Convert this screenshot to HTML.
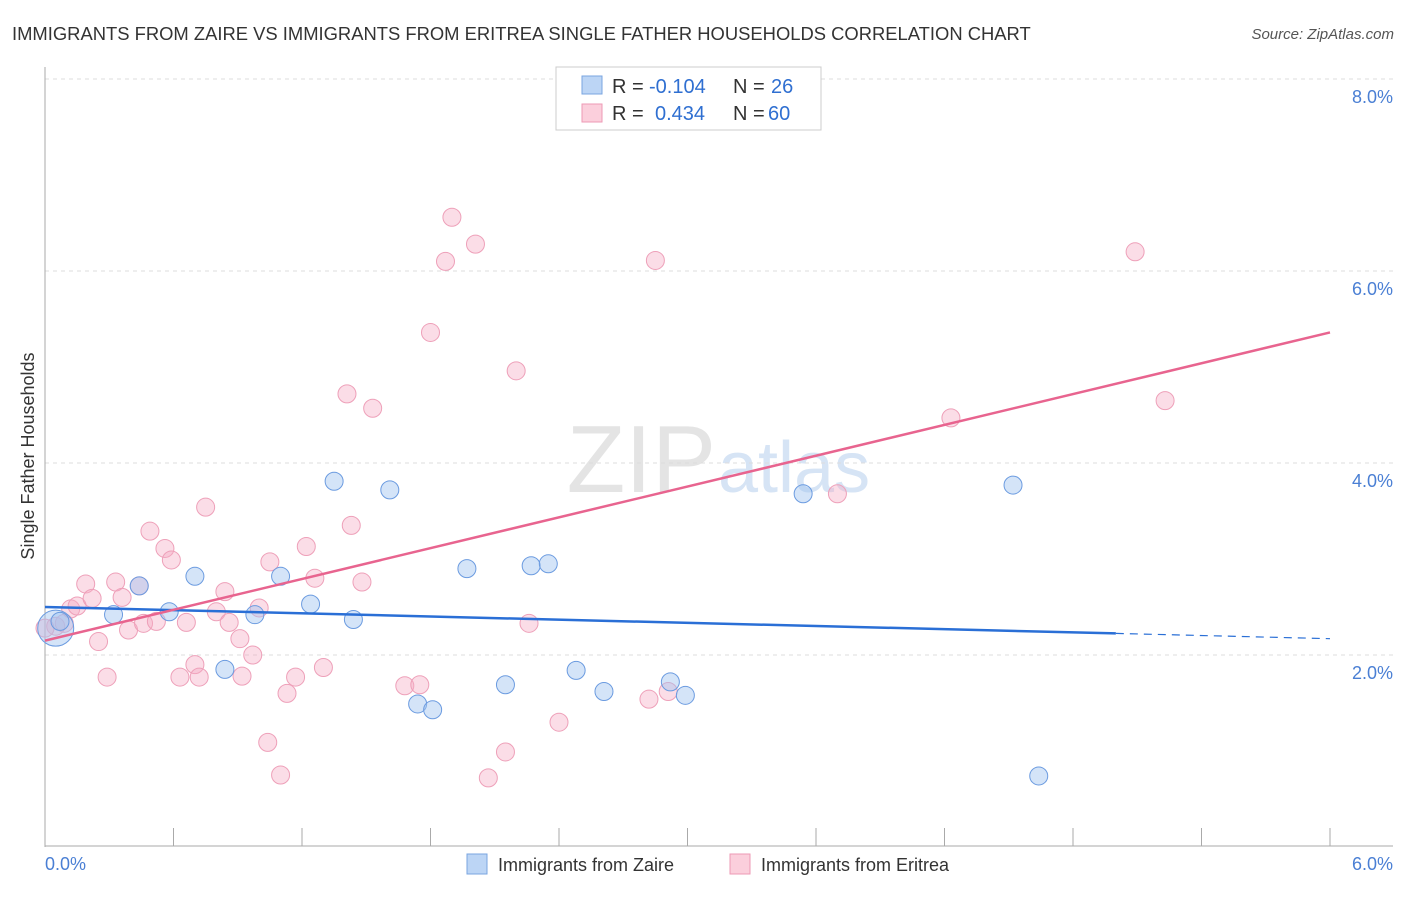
<!DOCTYPE html>
<html><head><meta charset="utf-8"><style>
body{margin:0;background:#fff;font-family:"Liberation Sans",sans-serif;}
svg text{font-family:"Liberation Sans",sans-serif;}
</style></head><body>
<svg id="c" width="1406" height="892" xmlns="http://www.w3.org/2000/svg">
<text x="12" y="40" font-size="18.4" fill="#333">IMMIGRANTS FROM ZAIRE VS IMMIGRANTS FROM ERITREA SINGLE FATHER HOUSEHOLDS CORRELATION CHART</text>
<text x="1394" y="39" font-size="15" fill="#555" font-style="italic" text-anchor="end">Source: ZipAtlas.com</text>
<text x="716" y="492" font-size="96" fill="#e4e4e4" font-family="Liberation Serif" text-anchor="end">ZIP</text>
<text x="718" y="492" font-size="72" fill="#d6e4f5">atlas</text>
<g id="grid"></g><g id="axes"></g><g id="pts"></g><g id="lines"></g>
<text x="34" y="456" font-size="18" fill="#333" text-anchor="middle" transform="rotate(-90 34 456)">Single Father Households</text>
<text x="45" y="870" font-size="18" fill="#4a7fd4">0.0%</text>
<text x="1393" y="870" font-size="18" fill="#4a7fd4" text-anchor="end">6.0%</text>
<g>
<rect x="556" y="67" width="265" height="63" fill="#fff" stroke="#ccc"/>
<rect x="582" y="76" width="20" height="18" fill="#bcd5f5" stroke="#7aa5e0"/>
<rect x="582" y="104" width="20" height="18" fill="#fbcfdc" stroke="#ee9ab5"/>
<text x="612" y="93" font-size="20" fill="#333">R =</text>
<text x="649" y="93" font-size="20" fill="#2f6fd1">-0.104</text>
<text x="733" y="93" font-size="20" fill="#333">N =</text>
<text x="771" y="93" font-size="20" fill="#2f6fd1">26</text>
<text x="612" y="120" font-size="20" fill="#333">R =</text>
<text x="655" y="120" font-size="20" fill="#2f6fd1">0.434</text>
<text x="733" y="120" font-size="20" fill="#333">N =</text>
<text x="768" y="120" font-size="20" fill="#2f6fd1">60</text>
</g>
<g>
<rect x="467" y="854" width="20" height="20" fill="#bcd5f5" stroke="#7aa5e0"/>
<text x="498" y="871" font-size="18" fill="#333">Immigrants from Zaire</text>
<rect x="730" y="854" width="20" height="20" fill="#fbcfdc" stroke="#ee9ab5"/>
<text x="761" y="871" font-size="18" fill="#333">Immigrants from Eritrea</text>
</g>
</svg>
<script>
const yTicks=[2,4,6,8];
const xTicks=[0,0.6,1.2,1.8,2.4,3.0,3.6,4.2,4.8,5.4,6.0];
const zaireX=[0.05,0.32,0.44,0.58,0.70,0.84,0.98,1.10,1.24,1.35,1.44,1.61,1.74,1.81,1.97,2.15,2.27,2.35,2.48,2.61,2.92,2.99,3.54,4.52,4.64,0.07];
const zaireY=[2.28,2.42,2.72,2.45,2.82,1.85,2.42,2.82,2.53,3.81,2.37,3.72,1.49,1.43,2.90,1.69,2.93,2.95,1.84,1.62,1.72,1.58,3.68,3.77,0.74,2.35];
const zaireR=[18,9,9,9,9,9,9,9,9,9,9,9,9,9,9,9,9,9,9,9,9,9,9,9,9,9];
const eritreaX=[0.05,0.09,0.12,0.15,0.19,0.22,0.25,0.29,0.33,0.36,0.39,0.44,0.46,0.49,0.52,0.56,0.59,0.63,0.66,0.70,0.72,0.75,0.80,0.84,0.86,0.91,0.92,0.97,1.00,1.04,1.05,1.10,1.13,1.17,1.22,1.26,1.30,1.41,1.43,1.48,1.53,1.68,1.75,1.80,1.87,1.90,2.01,2.07,2.15,2.20,2.26,2.40,2.82,2.85,2.91,3.70,4.23,5.09,5.23,0.0];
const eritreaY=[2.30,2.33,2.48,2.51,2.74,2.59,2.14,1.77,2.76,2.60,2.26,2.72,2.33,3.29,2.35,3.11,2.99,1.77,2.34,1.90,1.77,3.54,2.45,2.66,2.34,2.17,1.78,2.00,2.49,1.09,2.97,0.75,1.60,1.77,3.13,2.80,1.87,4.72,3.35,2.76,4.57,1.68,1.69,5.36,6.10,6.56,6.28,0.72,0.99,4.96,2.33,1.30,1.54,6.11,1.62,3.68,4.47,6.20,4.65,2.28];
const zaireLine=[2.50,-0.055];
const eritreaLine=[2.15,0.535];
const X=v=>45+v/6*1285, Y=v=>847-v*96;
const ns="http://www.w3.org/2000/svg";
function mk(t,a,p){const e=document.createElementNS(ns,t);for(const k in a)e.setAttribute(k,a[k]);document.getElementById(p).appendChild(e);return e;}
yTicks.forEach(t=>{
 const l=mk('line',{x1:45,x2:1393,y1:Y(t),y2:Y(t),stroke:'#ddd','stroke-dasharray':'4,4'},'grid');
 
 
 const tx=mk('text',{x:1393,y:Y(t)+24,'font-size':18,fill:'#4a7fd4','text-anchor':'end'},'grid');
 tx.textContent=t.toFixed(1)+'%';
 
 
});
const ax=mk('line',{x1:45,x2:45,y1:67,y2:847,stroke:'#aaa'},'axes');


const bx=mk('line',{x1:45,x2:1393,y1:846,y2:846,stroke:'#aaa'},'axes');


xTicks.forEach(t=>{
 const l=mk('line',{x1:X(t),x2:X(t),y1:828,y2:846,stroke:'#aaa'},'axes');
 
 
});
eritreaX.forEach((x,i)=>{
 const c=mk('circle',{cx:X(x),cy:Y(eritreaY[i]),r:9,fill:'rgba(246,170,195,0.4)',stroke:'#eea0b9','stroke-width':1},'pts');
 
 
});
zaireX.forEach((x,i)=>{
 const c=mk('circle',{cx:X(x),cy:Y(zaireY[i]),r:zaireR[i],fill:'rgba(160,195,240,0.45)',stroke:'#6b9be0','stroke-width':1},'pts');
 
 
});
const zl=v=>zaireLine[0]+zaireLine[1]*v, el=v=>eritreaLine[0]+eritreaLine[1]*v;
const l1=mk('line',{x1:X(0),y1:Y(zl(0)),x2:X(5.0),y2:Y(zl(5.0)),stroke:'#2a6fd6','stroke-width':2.5},'lines');


const l2=mk('line',{x1:X(5.0),y1:Y(zl(5.0)),x2:X(6),y2:Y(zl(6)),stroke:'#2a6fd6','stroke-width':1.2,'stroke-dasharray':'8,6'},'lines');


const l3=mk('line',{x1:X(0),y1:Y(el(0)),x2:X(6),y2:Y(el(6)),stroke:'#e8648f','stroke-width':2.5},'lines');


</script>
</body></html>
